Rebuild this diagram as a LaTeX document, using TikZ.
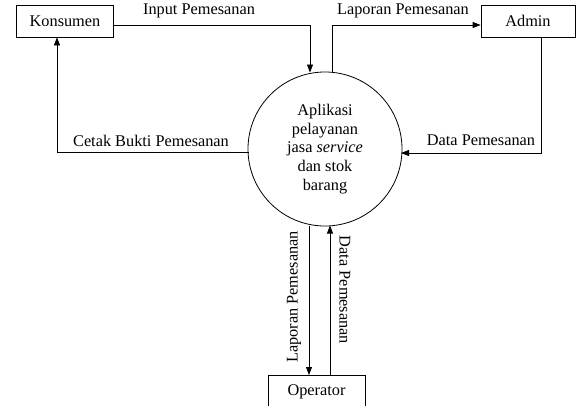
\documentclass[tikz,border=0pt]{standalone}
\usepackage{fontspec}
\setmainfont{Liberation Serif}
\usetikzlibrary{arrows.meta}
\begin{document}
\begin{tikzpicture}[x=1pt,y=-1pt,
  every node/.style={font=\fontsize{16.3}{18.7}\selectfont},
  entity/.style={draw, line width=0.8pt, minimum width=97pt, minimum height=32pt, inner sep=0pt},
  process/.style={draw, circle, line width=0.8pt, minimum size=154pt, inner sep=0pt, align=center},
  flow/.style={line width=0.8pt, -{Triangle[length=8pt,width=6pt]}},
  lbl/.style={inner sep=1pt}]
\useasboundingbox (0,0) rectangle (576,405);
\clip (0,0) rectangle (576,405);

% external entities
\node[entity] (kons) at (65,21) {Konsumen};
\node[entity, minimum width=94pt] (admin) at (528,21) {Admin};
\node[entity, anchor=north] (oper) at (316.5,375) {Operator};

% central process
\node[process] (proc) at (325,149) {Aplikasi\\pelayanan\\jasa \textit{service}\\dan stok\\barang};

% bend points
\coordinate (inA) at (310,25);
\coordinate (lapA) at (332,25);
\coordinate (dataA) at (541,153);
\coordinate (cetA) at (57,152);

% Konsumen -> process
\draw[flow] (kons.east |- inA) -- (inA) -- (310,72.5);
% process -> Admin
\draw[flow] (332,73) -- (lapA) -- (admin.west |- lapA);
% Admin -> process
\draw[flow] (admin.south -| dataA) -- (dataA) -- (401,153);
% process -> Konsumen
\draw[flow] (248.5,152) -- (cetA) -- (kons.south -| cetA);
% process <-> Operator
\draw[flow] (309,225.5) -- (309,375);
\draw[flow] (330,375) -- (330,225.5);

% flow labels
\node[lbl] (l1) at (199,11) {Input Pemesanan};
\node[lbl] (l2) at (403,11) {Laporan Pemesanan};
\node[lbl] (l3) at (481,140) {Data Pemesanan};
\node[lbl] (l4) at (151,141) {Cetak Bukti Pemesanan};
\node[lbl, rotate=90] (l5) at (294,297) {Laporan Pemesanan};
\node[lbl, rotate=-90] (l6) at (345,290) {Data Pemesanan};
\end{tikzpicture}
\end{document}
